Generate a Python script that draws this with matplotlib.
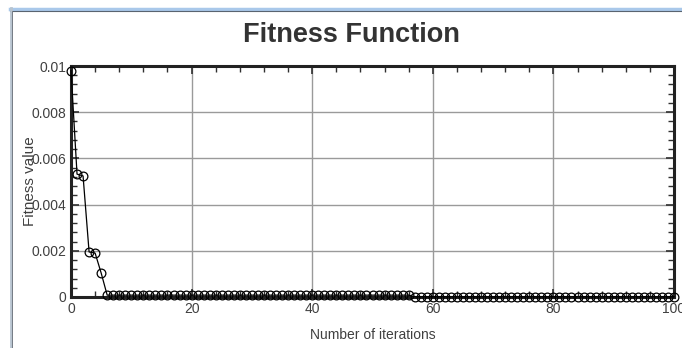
import matplotlib
matplotlib.use("Agg")
import matplotlib.pyplot as plt
from matplotlib.lines import Line2D
from matplotlib.ticker import MultipleLocator

# Data
iterations = list(range(0, 101))
fitness_head = [0.0098, 0.00532, 0.00524, 0.00195, 0.0019, 0.00104]
fitness_mid = [0.00008] * 51      # iterations 6..56
fitness_tail = [0.00001] * 44     # iterations 57..100
fitness = fitness_head + fitness_mid + fitness_tail

x_ticks = [0, 20, 40, 60, 80, 100]
x_tick_labels = ['0', '20', '40', '60', '80', '100']
y_ticks = [0, 0.002, 0.004, 0.006, 0.008, 0.01]
y_tick_labels = ['0', '0.002', '0.004', '0.006', '0.008', '0.01']

plt.rcParams['font.family'] = ['Liberation Sans', 'DejaVu Sans']

W, H = 682, 348
fig = plt.figure(figsize=(W / 100, H / 100), dpi=100)
fig.patch.set_facecolor('white')

# window frame decoration
fig.add_artist(Line2D([10 / W, 1], [1 - 8.5 / H, 1 - 8.5 / H], color='#a9c8ea', lw=2.5))
fig.add_artist(Line2D([10 / W, 1], [1 - 10.5 / H, 1 - 10.5 / H], color='#5a6470', lw=0.8))
fig.add_artist(Line2D([10.5 / W, 10.5 / W], [0, 1 - 8 / H], color='#b8c4d0', lw=2))
fig.add_artist(Line2D([12 / W, 12 / W], [0, 1 - 10.5 / H], color='#6a7078', lw=0.6))

ax = fig.add_axes([71 / W, 1 - 297 / H, (674 - 71) / W, (297 - 66) / H])

ax.plot(iterations, fitness, color='black', lw=0.9, marker='o', markersize=6.3,
        markerfacecolor='none', markeredgecolor='black', markeredgewidth=0.9,
        clip_on=False, zorder=3)

ax.set_xlim(0, 100)
ax.set_ylim(0, 0.01)
ax.set_xticks(x_ticks)
ax.set_xticklabels(x_tick_labels)
ax.set_yticks(y_ticks)
ax.set_yticklabels(y_tick_labels)
ax.xaxis.set_minor_locator(MultipleLocator(4))
ax.yaxis.set_minor_locator(MultipleLocator(0.0004))

ax.grid(True, which='major', color='#9a9a9a', lw=1.0)
ax.tick_params(which='both', direction='in', top=True, right=True,
               colors='#303030', labelcolor='#404040', labelsize=10)
ax.tick_params(which='major', length=6, width=1.2)
ax.tick_params(which='minor', length=4, width=1.0)
for s in ax.spines.values():
    s.set_linewidth(2.2)
    s.set_color('#222222')

ax.set_xlabel('Number of iterations', fontsize=10, color='#404040')
ax.xaxis.set_label_coords((373 - 71) / 603, -(335 - 297) / 231)
ax.set_ylabel('Fitness value', fontsize=11, color='#404040')
ax.yaxis.set_label_coords((30 - 71) / 603, 0.5)
ax.xaxis.label.set_va('center')
ax.yaxis.label.set_va('center')

fig.text(351 / W, 1 - 35 / H, 'Fitness Function', ha='center', va='center',
         fontsize=19.5, fontweight='bold', color='#333333')

fig.savefig('out.png', dpi=100)
